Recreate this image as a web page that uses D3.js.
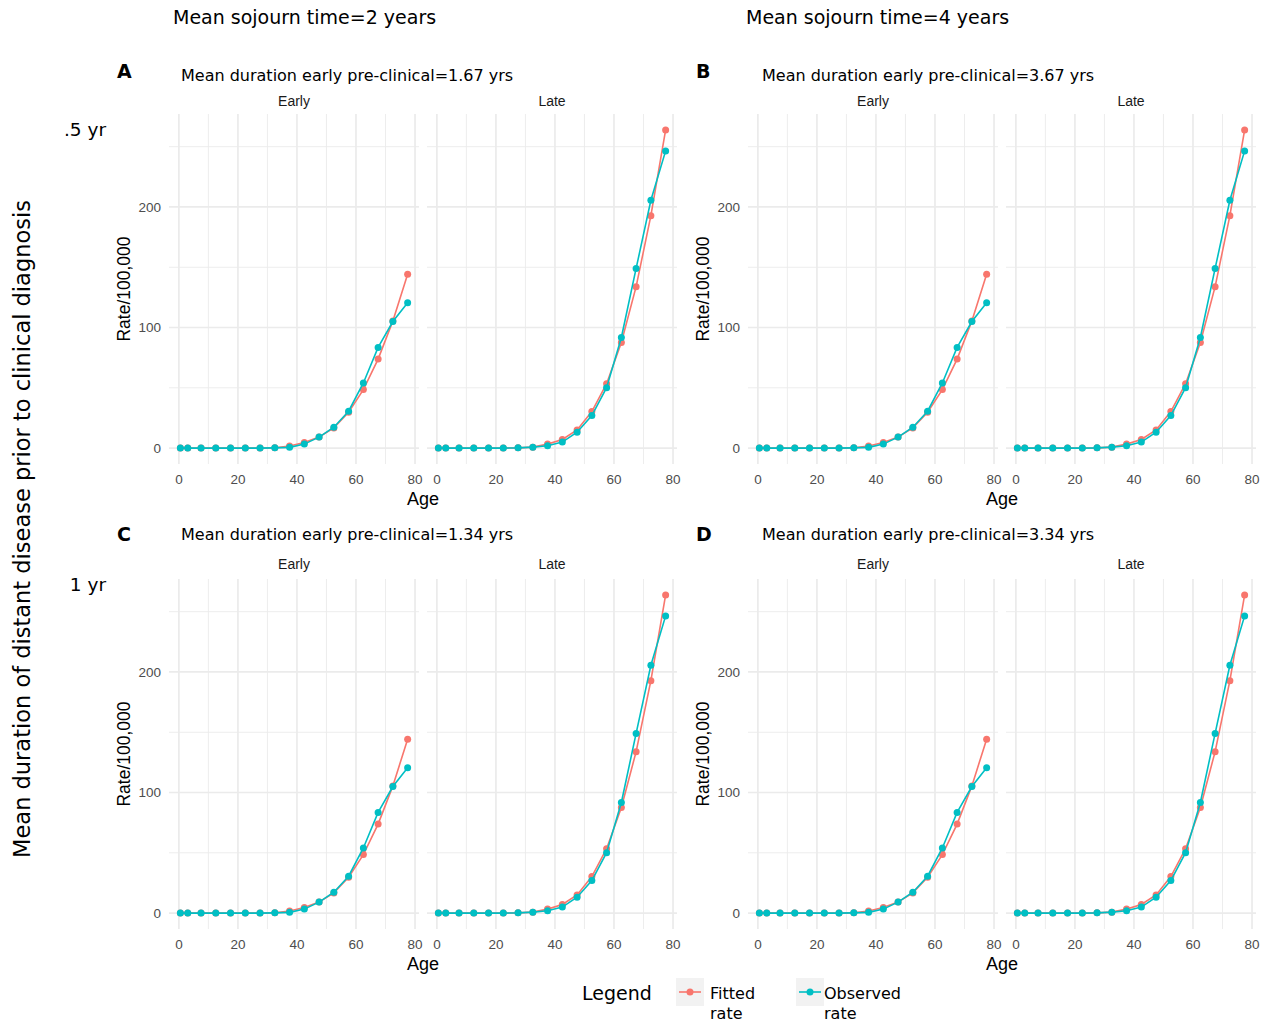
<!DOCTYPE html>
<html>
<head>
<meta charset="utf-8">
<script src="https://d3js.org/d3.v7.min.js"></script>
<style>
    body { margin: 0; background: #fff; }
    .dv { font-family: 'DejaVu Sans', sans-serif; fill: #000; }
    .ls { font-family: 'Liberation Sans', Arial, sans-serif; }
    .tick-lab { font-family: 'Liberation Sans', Arial, sans-serif; font-size: 13.5px; fill: #4d4d4d; }
</style>
</head>
<body>
<script>
// ages (mid-points of age groups)
var ages = [0.5, 3, 7.5, 12.5, 17.5, 22.5, 27.5, 32.5, 37.5, 42.5, 47.5, 52.5, 57.5, 62.5, 67.5, 72.5, 77.5];

// rates per 100,000 (all four scenarios look the same)
var earlyFitted   = [0, 0, 0, 0, 0, 0, 0, 0.3, 1.7, 4.6, 9.1, 16.7, 29.8, 48.5, 73.8, 105.5, 144.2];
var earlyObserved = [0, 0, 0, 0, 0, 0, 0, 0.2, 0.6, 3.3, 9.1, 17.3, 30.6, 54.0, 83.5, 105.0, 120.6];
var lateFitted    = [0, 0, 0, 0, 0, 0, 0.2, 0.8, 3.3, 7.1, 15.1, 30.3, 53.4, 87.6, 133.9, 192.8, 263.9];
var lateObserved  = [0, 0, 0, 0, 0, 0, 0.2, 0.8, 1.9, 5.0, 13.2, 27.0, 50.1, 91.7, 149.0, 205.5, 246.5];

var facets = ["Early", "Late"];
var seriesNames = ["Fitted rate", "Observed rate"];
var colTitles = ["Mean sojourn time=2 years", "Mean sojourn time=4 years"];
var rowLabels = [".5 yr", "1 yr"];
var panelLetters = ["A", "B", "C", "D"];
var panelTitles = [
    "Mean duration early pre-clinical=1.67 yrs",
    "Mean duration early pre-clinical=3.67 yrs",
    "Mean duration early pre-clinical=1.34 yrs",
    "Mean duration early pre-clinical=3.34 yrs"
];
var xTicks = [0, 20, 40, 60, 80];
var xMinor = [10, 30, 50, 70];
var yTicks = [0, 100, 200];
var yMinor = [50, 150, 250];

var colors = {"Fitted rate": "#F8766D", "Observed rate": "#00BFC4"};

var seriesData = {
    "Early": {"Fitted rate": earlyFitted, "Observed rate": earlyObserved},
    "Late":  {"Fitted rate": lateFitted,  "Observed rate": lateObserved}
};

var svg = d3.select("body").append("svg")
    .attr("width", 1271)
    .attr("height", 1023);

// fixed scales shared by all facets, with ggplot-like 5% expansion
var allVals = earlyFitted.concat(earlyObserved, lateFitted, lateObserved);
var yExt = d3.extent(allVals);
var yPad = (yExt[1] - yExt[0]) * 0.05;
var xExt = d3.extent(ages);
var xPad = (xExt[1] - xExt[0]) * 0.05;

var panelW = 250, panelH = 350, gap = 8;
var colX = [169, 748];
var rowY = [114, 579];
// label rows above each panel row
var letterY = [71, 534];
var subtitleY = [75, 534];
var stripY = [101, 564];
var rowLabelY = [130, 585];

var x = d3.scaleLinear().domain([xExt[0] - xPad, xExt[1] + xPad]).range([0, panelW]);
var y = d3.scaleLinear().domain([yExt[0] - yPad, yExt[1] + yPad]).range([panelH, 0]);

var line = d3.line()
    .x(function(d) { return x(d.age); })
    .y(function(d) { return y(d.rate); });

// column titles
var colTitleX = [173, 746];
colTitles.forEach(function(t, i) {
    svg.append("text").attr("class", "dv")
        .attr("x", colTitleX[i]).attr("y", 17).attr("dy", "0.35em")
        .style("font-size", "19px").text(t);
});

// row labels
rowLabels.forEach(function(t, i) {
    svg.append("text").attr("class", "dv")
        .attr("x", 106).attr("y", rowLabelY[i]).attr("dy", "0.35em")
        .attr("text-anchor", "end")
        .style("font-size", "18.5px").text(t);
});

// big left title
svg.append("text").attr("class", "dv")
    .attr("transform", "translate(22,529) rotate(-90)")
    .attr("dy", "0.35em")
    .attr("text-anchor", "middle")
    .style("font-size", "22.5px")
    .text("Mean duration of distant disease prior to clinical diagnosis");

function drawPanel(idx) {
    var col = idx % 2, row = Math.floor(idx / 2);
    var left = colX[col], top = rowY[row];

    svg.append("text").attr("class", "dv")
        .attr("x", left - 52).attr("y", letterY[row]).attr("dy", "0.35em")
        .style("font-size", "19px").style("font-weight", "bold")
        .text(panelLetters[idx]);

    svg.append("text").attr("class", "dv")
        .attr("x", left + (col === 0 ? 12 : 14)).attr("y", subtitleY[row]).attr("dy", "0.35em")
        .style("font-size", "16px")
        .text(panelTitles[idx]);

    // y axis title
    svg.append("text").attr("class", "ls")
        .attr("transform", "translate(" + (left - 45) + "," + (top + panelH / 2) + ") rotate(-90)")
        .attr("dy", "0.35em")
        .attr("text-anchor", "middle")
        .style("font-size", "17.5px")
        .text("Rate/100,000");

    // y tick labels
    yTicks.forEach(function(t) {
        svg.append("text").attr("class", "tick-lab")
            .attr("x", left - 8).attr("y", top + y(t)).attr("dy", "0.35em")
            .attr("text-anchor", "end").text(t);
    });

    // x axis title
    svg.append("text").attr("class", "ls")
        .attr("x", left + panelW + gap / 2).attr("y", top + panelH + 35).attr("dy", "0.35em")
        .attr("text-anchor", "middle")
        .style("font-size", "18px")
        .text("Age");

    facets.forEach(function(f, fi) {
        var g = svg.append("g")
            .attr("transform", "translate(" + (left + fi * (panelW + gap)) + "," + top + ")");

        g.append("text").attr("class", "ls")
            .attr("x", panelW / 2).attr("y", stripY[row] - top).attr("dy", "0.35em")
            .attr("text-anchor", "middle")
            .style("font-size", "14px").style("fill", "#1a1a1a")
            .text(f);

        // minor grid
        g.selectAll(".ymin").data(yMinor).enter().append("line")
            .attr("x1", 0).attr("x2", panelW)
            .attr("y1", function(d) { return y(d); }).attr("y2", function(d) { return y(d); })
            .attr("stroke", "#ebebeb").attr("stroke-width", 0.9);
        g.selectAll(".xmin").data(xMinor).enter().append("line")
            .attr("y1", 0).attr("y2", panelH)
            .attr("x1", function(d) { return x(d); }).attr("x2", function(d) { return x(d); })
            .attr("stroke", "#ebebeb").attr("stroke-width", 0.9);
        // major grid
        g.selectAll(".ymaj").data(yTicks).enter().append("line")
            .attr("x1", 0).attr("x2", panelW)
            .attr("y1", function(d) { return y(d); }).attr("y2", function(d) { return y(d); })
            .attr("stroke", "#ebebeb").attr("stroke-width", 1.7);
        g.selectAll(".xmaj").data(xTicks).enter().append("line")
            .attr("y1", 0).attr("y2", panelH)
            .attr("x1", function(d) { return x(d); }).attr("x2", function(d) { return x(d); })
            .attr("stroke", "#ebebeb").attr("stroke-width", 1.7);

        // x tick labels
        g.selectAll(".xlab").data(xTicks).enter().append("text")
            .attr("class", "tick-lab")
            .attr("x", function(d) { return x(d); })
            .attr("y", panelH + 15).attr("dy", "0.35em")
            .attr("text-anchor", "middle")
            .text(function(d) { return d; });

        seriesNames.forEach(function(s) {
            var pts = ages.map(function(a, i) { return {age: a, rate: seriesData[f][s][i]}; });
            g.append("path").datum(pts)
                .attr("fill", "none")
                .attr("stroke", colors[s])
                .attr("stroke-width", 1.6)
                .attr("d", line);
            g.selectAll(null).data(pts).enter().append("circle")
                .attr("cx", function(d) { return x(d.age); })
                .attr("cy", function(d) { return y(d.rate); })
                .attr("r", 3.5)
                .attr("fill", colors[s]);
        });
    });
}

for (var i = 0; i < 4; i++) drawPanel(i);

// legend
var lg = svg.append("g");
lg.append("text").attr("class", "dv")
    .attr("x", 582).attr("y", 993).attr("dy", "0.35em")
    .style("font-size", "19px").text("Legend");

var legendX = [676, 796];
seriesNames.forEach(function(s, i) {
    var k = lg.append("g").attr("transform", "translate(" + legendX[i] + ",978)");
    k.append("rect").attr("width", 28).attr("height", 28).attr("fill", "#f2f2f2");
    k.append("line").attr("x1", 3).attr("x2", 25).attr("y1", 14).attr("y2", 14)
        .attr("stroke", colors[s]).attr("stroke-width", 1.6);
    k.append("circle").attr("cx", 14).attr("cy", 14).attr("r", 3.5).attr("fill", colors[s]);
    var words = s.split(" ");
    words.forEach(function(w, j) {
        k.append("text").attr("class", "dv")
            .attr("x", i === 0 ? 34 : 28).attr("y", 15 + j * 20).attr("dy", "0.35em")
            .style("font-size", "16px").text(w);
    });
});
</script>
</body>
</html>
